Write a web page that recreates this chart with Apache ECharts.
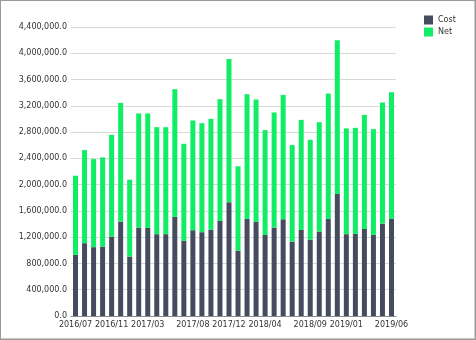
<!DOCTYPE html>
<html>
<head>
<meta charset="utf-8">
<script src="https://cdn.jsdelivr.net/npm/echarts@6/dist/echarts.min.js"></script>
<style>
  html, body { margin: 0; padding: 0; background: #fff; }
  #frame { position: absolute; left: 0; top: 0; width: 476px; height: 340px; box-sizing: border-box; border: 1px solid #9a9a9a; box-shadow: inset -1px -1px 0 #c8c8c8; }
  #chart { position: absolute; left: 0; top: 0; width: 474px; height: 338px; }
</style>
</head>
<body>
<div id="frame"><div id="chart"></div></div>
<script>
// Monthly periods, July 2016 through June 2019
const months = [
  '2016/07','2016/08','2016/09','2016/10','2016/11','2016/12',
  '2017/01','2017/02','2017/03','2017/04','2017/05','2017/06',
  '2017/07','2017/08','2017/09','2017/10','2017/11','2017/12',
  '2018/01','2018/02','2018/03','2018/04','2018/05','2018/06',
  '2018/07','2018/08','2018/09','2018/10','2018/11','2018/12',
  '2019/01','2019/02','2019/03','2019/04','2019/05','2019/06'
];

// Which periods get a tick label on the category axis
const labelledMonths = ['2016/07','2016/11','2017/03','2017/08','2017/12','2018/04','2018/09','2019/01','2019/06'];

const cost = [
  931000, 1109000, 1048000, 1057000, 1209000, 1437000,
  905000, 1346000, 1341000, 1246000, 1246000, 1508000,
  1144000, 1306000, 1276000, 1315000, 1448000, 1732000,
  996000, 1478000, 1432000, 1235000, 1346000, 1473000,
  1133000, 1311000, 1164000, 1285000, 1478000, 1858000,
  1246000, 1250000, 1326000, 1235000, 1407000, 1478000
];

const net = [
  1205000, 1417000, 1341000, 1358000, 1549000, 1808000,
  1170000, 1738000, 1743000, 1629000, 1629000, 1945000,
  1478000, 1671000, 1660000, 1687000, 1853000, 2181000,
  1283000, 1899000, 1864000, 1595000, 1753000, 1893000,
  1469000, 1675000, 1519000, 1666000, 1909000, 2339000,
  1610000, 1615000, 1736000, 1610000, 1844000, 1929000
];

const yMax = 4400000;
const yStep = 400000;

const fmt = v => v.toLocaleString('en-US', { minimumFractionDigits: 1, maximumFractionDigits: 1 });
const showAt = idx => labelledMonths.indexOf(months[idx]) !== -1;

const chart = echarts.init(document.getElementById('chart'), null, { renderer: 'canvas' });
chart.setOption({
  animation: false,
  textStyle: { fontFamily: 'DejaVu Sans', fontSize: 8, color: '#333' },
  color: ['#464c5f', '#11ee66'],
  legend: {
    orient: 'vertical',
    left: 418,
    top: 8,
    itemWidth: 9,
    itemHeight: 9,
    itemGap: 0,
    icon: 'rect',
    textStyle: { fontFamily: 'DejaVu Sans', fontSize: 8, color: '#333', lineHeight: 12 },
    data: ['Cost', 'Net']
  },
  grid: { left: 70, right: 79, top: 26, bottom: 23, containLabel: false },
  xAxis: {
    type: 'category',
    data: months,
    axisLine: { lineStyle: { color: '#8c8c8c', width: 1 } },
    axisTick: { alignWithLabel: true, length: 3, interval: showAt, lineStyle: { color: '#8c8c8c' } },
    axisLabel: { interval: showAt, margin: 5, fontFamily: 'DejaVu Sans', fontSize: 8, color: '#333' }
  },
  yAxis: {
    type: 'value',
    min: 0,
    max: yMax,
    interval: yStep,
    axisLine: { show: false },
    axisTick: { show: false },
    axisLabel: { formatter: fmt, margin: 4, fontFamily: 'DejaVu Sans', fontSize: 8, color: '#333' },
    splitLine: { lineStyle: { color: ['#d9d9d9'], width: 1 } }
  },
  series: [
    { name: 'Cost', type: 'bar', stack: 'total', barWidth: 5, data: cost },
    { name: 'Net', type: 'bar', stack: 'total', barWidth: 5, data: net }
  ]
});
</script>
</body>
</html>
